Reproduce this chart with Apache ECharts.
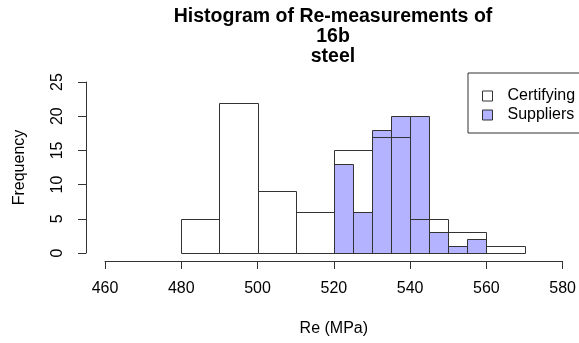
<!DOCTYPE html>
<html>
<head>
<meta charset="utf-8">
<script src="https://cdn.jsdelivr.net/npm/echarts@6/dist/echarts.min.js"></script>
<style>
  html, body { margin: 0; padding: 0; background: #fff; }
  #chart { width: 579px; height: 343px; }
</style>
</head>
<body>
<div id="chart"></div>
<script>
// histogram bins (left edges) and counts
const certBreaks = [480, 490, 500, 510, 520, 530, 540, 550, 560];
const certCounts = [5, 22, 9, 6, 15, 17, 5, 3, 1];
const certWidth = 10;

const suppBreaks = [520, 525, 530, 535, 540, 545, 550, 555];
const suppCounts = [13, 6, 18, 20, 20, 3, 1, 2];
const suppWidth = 5;

const xTicks = [460, 480, 500, 520, 540, 560, 580];
const yTicks = [0, 5, 10, 15, 20, 25];

const FONT = "Liberation Sans, Arial, sans-serif";
const LINE = "#333";

const chart = echarts.init(document.getElementById("chart"));

function binData(breaks, counts, w) {
  return breaks.map((b, i) => [b, b + w, counts[i]]);
}

function renderBin(fill) {
  return function (params, api) {
    const p0 = api.coord([api.value(0), 0]);
    const p1 = api.coord([api.value(1), api.value(2)]);
    const x0 = Math.round(p0[0]) + 0.5;
    const x1 = Math.round(p1[0]) + 0.5;
    const y0 = Math.round(p0[1]) + 0.5;
    const y1 = Math.round(p1[1]) + 0.5;
    return {
      type: "rect",
      shape: { x: x0, y: y1, width: x1 - x0, height: y0 - y1 },
      style: { fill: fill, stroke: LINE, lineWidth: 1 },
    };
  };
}

const option = {
  animation: false,
  backgroundColor: "#fff",
  textStyle: { fontFamily: FONT },
  grid: { left: 105, right: 16, top: 82, bottom: 90 },
  graphic: [
    {
      type: "text",
      x: 333,
      y: 7,
      style: {
        text: "Histogram of Re-measurements of\n16b\nsteel",
        font: "bold 19.5px " + FONT,
        align: "center",
        lineHeight: 20,
        fill: "#000",
      },
    },
  ],
  legend: {
    orient: "vertical",
    left: 468,
    top: 73,
    padding: [15, 20, 10, 14],
    itemGap: 3,
    itemWidth: 10,
    itemHeight: 10,
    borderColor: LINE,
    borderWidth: 1,
    textStyle: { fontSize: 16, color: "#000", fontFamily: FONT, padding: [0, 0, 0, 10] },
    data: [
      { name: "Certifying", icon: "rect", itemStyle: { color: "#fff", borderColor: LINE, borderWidth: 1 } },
      { name: "Suppliers", icon: "rect", itemStyle: { color: "#b3b3ff", borderColor: LINE, borderWidth: 1 } },
    ],
  },
  xAxis: {
    type: "value",
    min: xTicks[0],
    max: xTicks[xTicks.length - 1],
    interval: 20,
    offset: 8,
    name: "Re (MPa)",
    nameLocation: "middle",
    nameGap: 60,
    nameTextStyle: { fontSize: 16, color: "#000", fontFamily: FONT },
    axisLine: { onZero: false, lineStyle: { color: LINE } },
    axisTick: { length: 8, lineStyle: { color: LINE } },
    axisLabel: { fontSize: 16, color: "#000", margin: 20, fontFamily: FONT },
    splitLine: { show: false },
  },
  yAxis: {
    type: "value",
    min: yTicks[0],
    max: yTicks[yTicks.length - 1],
    interval: 5,
    offset: 19,
    name: "Frequency",
    nameLocation: "middle",
    nameRotate: 90,
    nameGap: 58,
    nameTextStyle: { fontSize: 16, color: "#000", fontFamily: FONT },
    axisLine: { show: true, onZero: false, lineStyle: { color: LINE } },
    axisTick: { show: true, length: 8, lineStyle: { color: LINE } },
    axisLabel: { fontSize: 16, color: "#000", rotate: 90, margin: 20, fontFamily: FONT },
    splitLine: { show: false },
  },
  series: [
    {
      name: "Suppliers",
      type: "custom",
      z: 2,
      itemStyle: { color: "#b3b3ff" },
      renderItem: renderBin("#b3b3ff"),
      encode: { x: [0, 1], y: 2 },
      data: binData(suppBreaks, suppCounts, suppWidth),
    },
    {
      name: "Certifying",
      type: "custom",
      z: 3,
      itemStyle: { color: "#fff" },
      renderItem: renderBin("none"),
      encode: { x: [0, 1], y: 2 },
      data: binData(certBreaks, certCounts, certWidth),
    },
  ],
};

chart.setOption(option);
</script>
</body>
</html>
